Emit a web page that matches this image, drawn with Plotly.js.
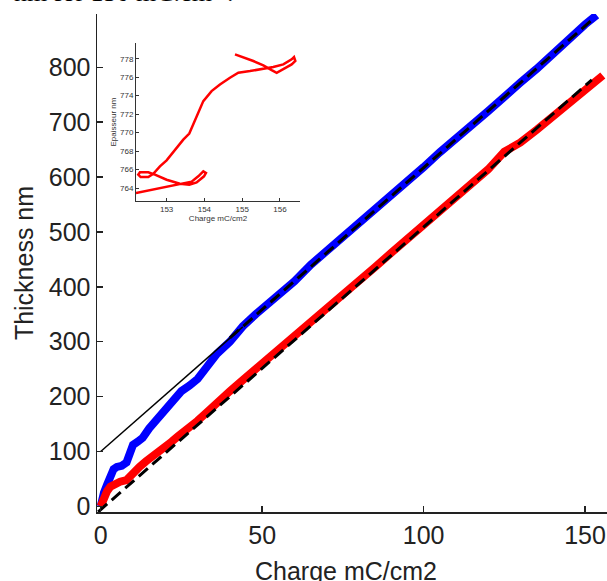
<!DOCTYPE html>
<html><head><meta charset="utf-8">
<script src="https://cdn.plot.ly/plotly-3.0.1.min.js"></script>
<style>html,body{margin:0;padding:0;background:#fff;overflow:hidden;} #chart{width:607px;height:581px;}</style>
</head><body><div id="chart"></div>
<script>
// Main plot: blue series (thickness vs charge)
const blueCharge = [0, 0.5, 1, 2, 3, 4, 5, 6.5, 8, 9, 10, 11.5, 13, 15, 17, 19, 21, 23, 25, 27.5, 30, 33, 36, 40, 44, 48, 52, 56, 60, 65, 70, 75, 80, 85, 90, 95, 100, 105, 110, 115, 120, 125, 130, 135, 140, 145, 150, 153.6];
const blueThickness = [0, 15, 25, 40, 60, 68, 72, 74, 80, 100, 112, 118, 125, 142, 155, 168, 185, 195, 210, 220, 232, 255, 278, 300, 328, 350, 370, 393, 410, 440, 465, 492, 515, 540, 568, 590, 618, 645, 668, 695, 720, 748, 772, 797, 825, 850, 878, 895];
// Main plot: red series
const redCharge = [0, 0.5, 1, 2, 3, 4.5, 6, 8, 10, 12, 14, 16, 18, 20, 22, 24, 26, 28, 30, 33, 36, 40, 44, 48, 52, 56, 60, 65, 70, 75, 80, 85, 90, 95, 100, 105, 110, 115, 120, 125, 130, 135, 140, 145, 150, 155.5];
const redThickness = [0, 8, 18, 28, 36, 42, 45, 48, 62, 72, 82, 90, 99, 108, 118, 128, 136, 145, 156, 172, 190, 210, 230, 250, 268, 287, 308, 334, 360, 386, 411, 436, 462, 487, 512, 538, 562, 590, 614, 646, 663, 686, 710, 734, 761, 785];
// Fit lines (black)
const fit1ThinCharge = [0, 44];
const fit1ThinThickness = [100, 327];
const fit1DashCharge = [40, 152.1];
const fit1DashThickness = [307, 886];
const fit2Charge = [-0.8, 152.1];
const fit2Thickness = [-10, 777];
// Inset: red loop
const insetCharge = [152.188, 152.647, 153.088, 153.441, 153.662, 153.838, 153.971, 154.041, 153.989, 153.794, 153.6, 153.353, 153.0, 152.691, 152.515, 152.294, 152.25, 152.312, 152.515, 152.647, 152.823, 153.0, 153.221, 153.441, 153.6, 153.706, 153.838, 153.971, 154.19, 154.412, 154.677, 154.898, 155.207, 155.56, 155.824, 156.089, 156.31, 156.372, 156.407, 156.31, 156.089, 155.913, 155.78, 155.56, 155.295, 155.03, 154.81];
const insetThickness = [763.46, 763.82, 764.18, 764.47, 764.69, 765.27, 765.81, 765.63, 765.27, 764.61, 764.36, 764.47, 764.90, 765.45, 765.70, 765.70, 765.45, 765.19, 765.19, 765.55, 766.35, 767.0, 768.16, 769.24, 769.90, 770.87, 772.14, 773.41, 774.49, 775.21, 775.94, 776.48, 776.66, 776.91, 777.10, 777.38, 777.93, 778.18, 777.75, 777.38, 776.84, 776.48, 776.77, 777.28, 777.75, 778.18, 778.47];
// Tick labels
const mainXTicks = [0, 50, 100, 150];
const mainYTicks = [0, 100, 200, 300, 400, 500, 600, 700, 800];
const insetXTicks = [153, 154, 155, 156];
const insetYTicks = [764, 766, 768, 770, 772, 774, 776, 778];

const txtCol = '#222222';
const F = 'Liberation Sans, Arial, sans-serif';

const traces = [
  {x: blueCharge, y: blueThickness, type: 'scatter', mode: 'lines', line: {color: '#0000ff', width: 8}, hoverinfo: 'skip'},
  {x: redCharge, y: redThickness, type: 'scatter', mode: 'lines', line: {color: '#ff0000', width: 8}, hoverinfo: 'skip'},
  {x: fit1ThinCharge, y: fit1ThinThickness, type: 'scatter', mode: 'lines', line: {color: '#000000', width: 1.5}, hoverinfo: 'skip'},
  {x: fit1DashCharge, y: fit1DashThickness, type: 'scatter', mode: 'lines', line: {color: '#000000', width: 3, dash: '12px,6px'}, hoverinfo: 'skip'},
  {x: fit2Charge, y: fit2Thickness, type: 'scatter', mode: 'lines', line: {color: '#000000', width: 3, dash: '12px,6px'}, hoverinfo: 'skip'},
  {x: insetCharge, y: insetThickness, type: 'scatter', mode: 'lines', xaxis: 'x2', yaxis: 'y2', line: {color: '#ff0000', width: 2.5}, hoverinfo: 'skip'}
];

const layout = {
  width: 607, height: 581,
  margin: {l: 97, r: 0, t: 14, b: 69, pad: 0},
  paper_bgcolor: '#ffffff', plot_bgcolor: 'rgba(0,0,0,0)',
  showlegend: false,
  font: {family: F, color: txtCol},
  xaxis: {
    range: [-1.15, 156.8], domain: [0, 1], tickvals: mainXTicks, ticktext: mainXTicks.map(String),
    ticks: 'inside', ticklen: 6, tickwidth: 1.5, tickcolor: txtCol,
    showline: true, linecolor: txtCol, linewidth: 1.5, mirror: false,
    showgrid: false, zeroline: false, tickfont: {size: 25, family: F, color: txtCol},
    automargin: false
  },
  yaxis: {
    range: [-10.2, 897], domain: [0, 1], tickvals: mainYTicks, ticktext: mainYTicks.map(String),
    ticks: 'inside', ticklen: 6, tickwidth: 1.5, tickcolor: txtCol,
    showline: true, linecolor: txtCol, linewidth: 1.5, mirror: false,
    showgrid: false, zeroline: false, tickfont: {size: 25, family: F, color: txtCol},
    title: {text: 'Thickness nm', font: {size: 25, family: F, color: txtCol}, standoff: 8},
    automargin: false
  },
  xaxis2: {
    anchor: 'y2', domain: [0.0765, 0.398], range: [152.19, 156.53],
    tickvals: insetXTicks, ticktext: insetXTicks.map(String),
    ticks: 'inside', ticklen: 3, tickwidth: 1, tickcolor: '#333',
    showline: true, linecolor: '#333', linewidth: 1, mirror: false,
    showgrid: false, zeroline: false, tickfont: {size: 8, family: F, color: '#333'},
    title: {text: 'Charge mC/cm2', font: {size: 8, family: F, color: '#333'}, standoff: 2},
    automargin: false
  },
  yaxis2: {
    anchor: 'x2', domain: [0.6245, 0.9418], range: [762.6, 779.7],
    tickvals: insetYTicks, ticktext: insetYTicks.map(String),
    ticks: 'inside', ticklen: 3, tickwidth: 1, tickcolor: '#333',
    showline: true, linecolor: '#333', linewidth: 1, mirror: false,
    showgrid: false, zeroline: false, tickfont: {size: 8, family: F, color: '#333'},
    title: {text: 'Epaisseur nm', font: {size: 8, family: F, color: '#333'}, standoff: 2},
    automargin: false
  },
  annotations: [{
    text: 'nm for 150 mC.cm<sup>-2</sup>.', xref: 'paper', yref: 'paper',
    x: -0.1667, y: 1.048, xanchor: 'left', yanchor: 'middle', showarrow: false,
    font: {family: 'Liberation Serif, Times New Roman, serif', size: 26, color: '#000'}
  }, {
    text: 'Charge mC/cm2', xref: 'paper', yref: 'paper',
    x: 0.488, y: -0.1185, xanchor: 'center', yanchor: 'middle', showarrow: false,
    font: {family: F, size: 25, color: txtCol}
  }]
};

Plotly.newPlot('chart', traces, layout, {staticPlot: true, displayModeBar: false});
</script>
</body></html>
